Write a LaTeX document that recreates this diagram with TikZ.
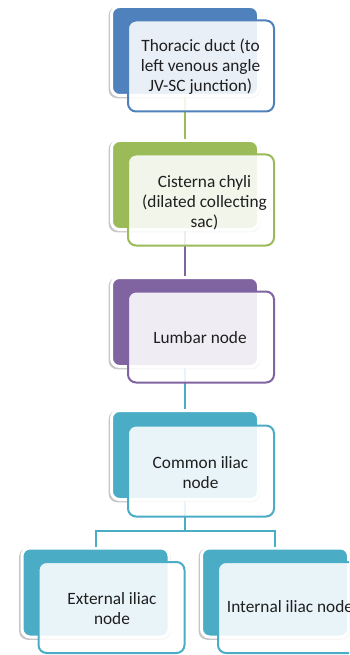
\documentclass[tikz,border=0pt]{standalone}
\usepackage{fontspec}
\setmainfont{Carlito}
\usetikzlibrary{shadows,calc}
\definecolor{cBlue}{HTML}{4F81BD}
\definecolor{cGreen}{HTML}{9BBB59}
\definecolor{cPurple}{HTML}{8064A2}
\definecolor{cTeal}{HTML}{4BACC6}
\tikzset{
  backbox/.style={draw=white, line width=3pt, rounded corners=8pt,
    minimum width=147pt, minimum height=89pt, inner sep=0pt, fill=#1,
    drop shadow={shadow xshift=-0.6pt, shadow yshift=-1.4pt, shadow scale=1.03, opacity=0.22, fill=black}},
  frontbox/.style={draw=#1, line width=2pt, rounded corners=8pt,
    minimum width=146pt, minimum height=91pt, inner sep=0pt,
    fill=white, fill opacity=0.88, draw opacity=1},
  boxtext/.style={font=\fontsize{17.3}{20}\selectfont, align=center, inner sep=0pt, text=black!88},
  conn/.style={line width=2pt, draw=#1}
}
\begin{document}
\begin{tikzpicture}[x=1pt,y=-1pt]
\useasboundingbox (0,0) rectangle (349,655);
\clip (0,0) rectangle (349,655);
% back boxes
\node[backbox=cBlue]   (b1) at (185,51) {};
\node[backbox=cGreen]  (b2) at (185,185) {};
\node[backbox=cPurple] (b3) at (185,322) {};
\node[backbox=cTeal]   (b4) at (185,455) {};
\node[backbox=cTeal]   (b5) at (95.5,592.5) {};
\node[backbox=cTeal]   (b6) at (275,592.5) {};
% connectors
\draw[conn=cGreen]  (b1.south) -- (b2.north);
\draw[conn=cPurple] (b2.south) -- (b3.north);
\draw[conn=cTeal]   (b3.south) -- (b4.north);
\coordinate (j) at ($(b4.south)+(0,30)$);
\draw[conn=cTeal] (b4.south) -- (j) -| (b5.north);
\draw[conn=cTeal] (j) -| (b6.north);
% front boxes
\node[frontbox=cBlue]   (f1) at (201,66) {};
\node[frontbox=cGreen]  (f2) at (201,200) {};
\node[frontbox=cPurple] (f3) at (201,337) {};
\node[frontbox=cTeal]   (f4) at (201,471) {};
\node[frontbox=cTeal]   (f5) at (111.5,607.5) {};
\node[frontbox=cTeal]   (f6) at (291,607.5) {};
% texts
\node[boxtext] (t1) at (200.5,66.5) {Thoracic duct (to\\left venous angle\\JV-SC junction)};
\node[boxtext] (t2) at (204.5,203) {Cisterna chyli\\(dilated collecting\\sac)};
\node[boxtext] (t3) at (200,338) {Lumbar node};
\node[boxtext] (t4) at (200.5,473) {Common iliac\\node};
\node[boxtext] (t5) at (112,608.5) {External iliac\\node};
\node[boxtext] (t6) at (290,607) {Internal iliac node};
\end{tikzpicture}
\end{document}
